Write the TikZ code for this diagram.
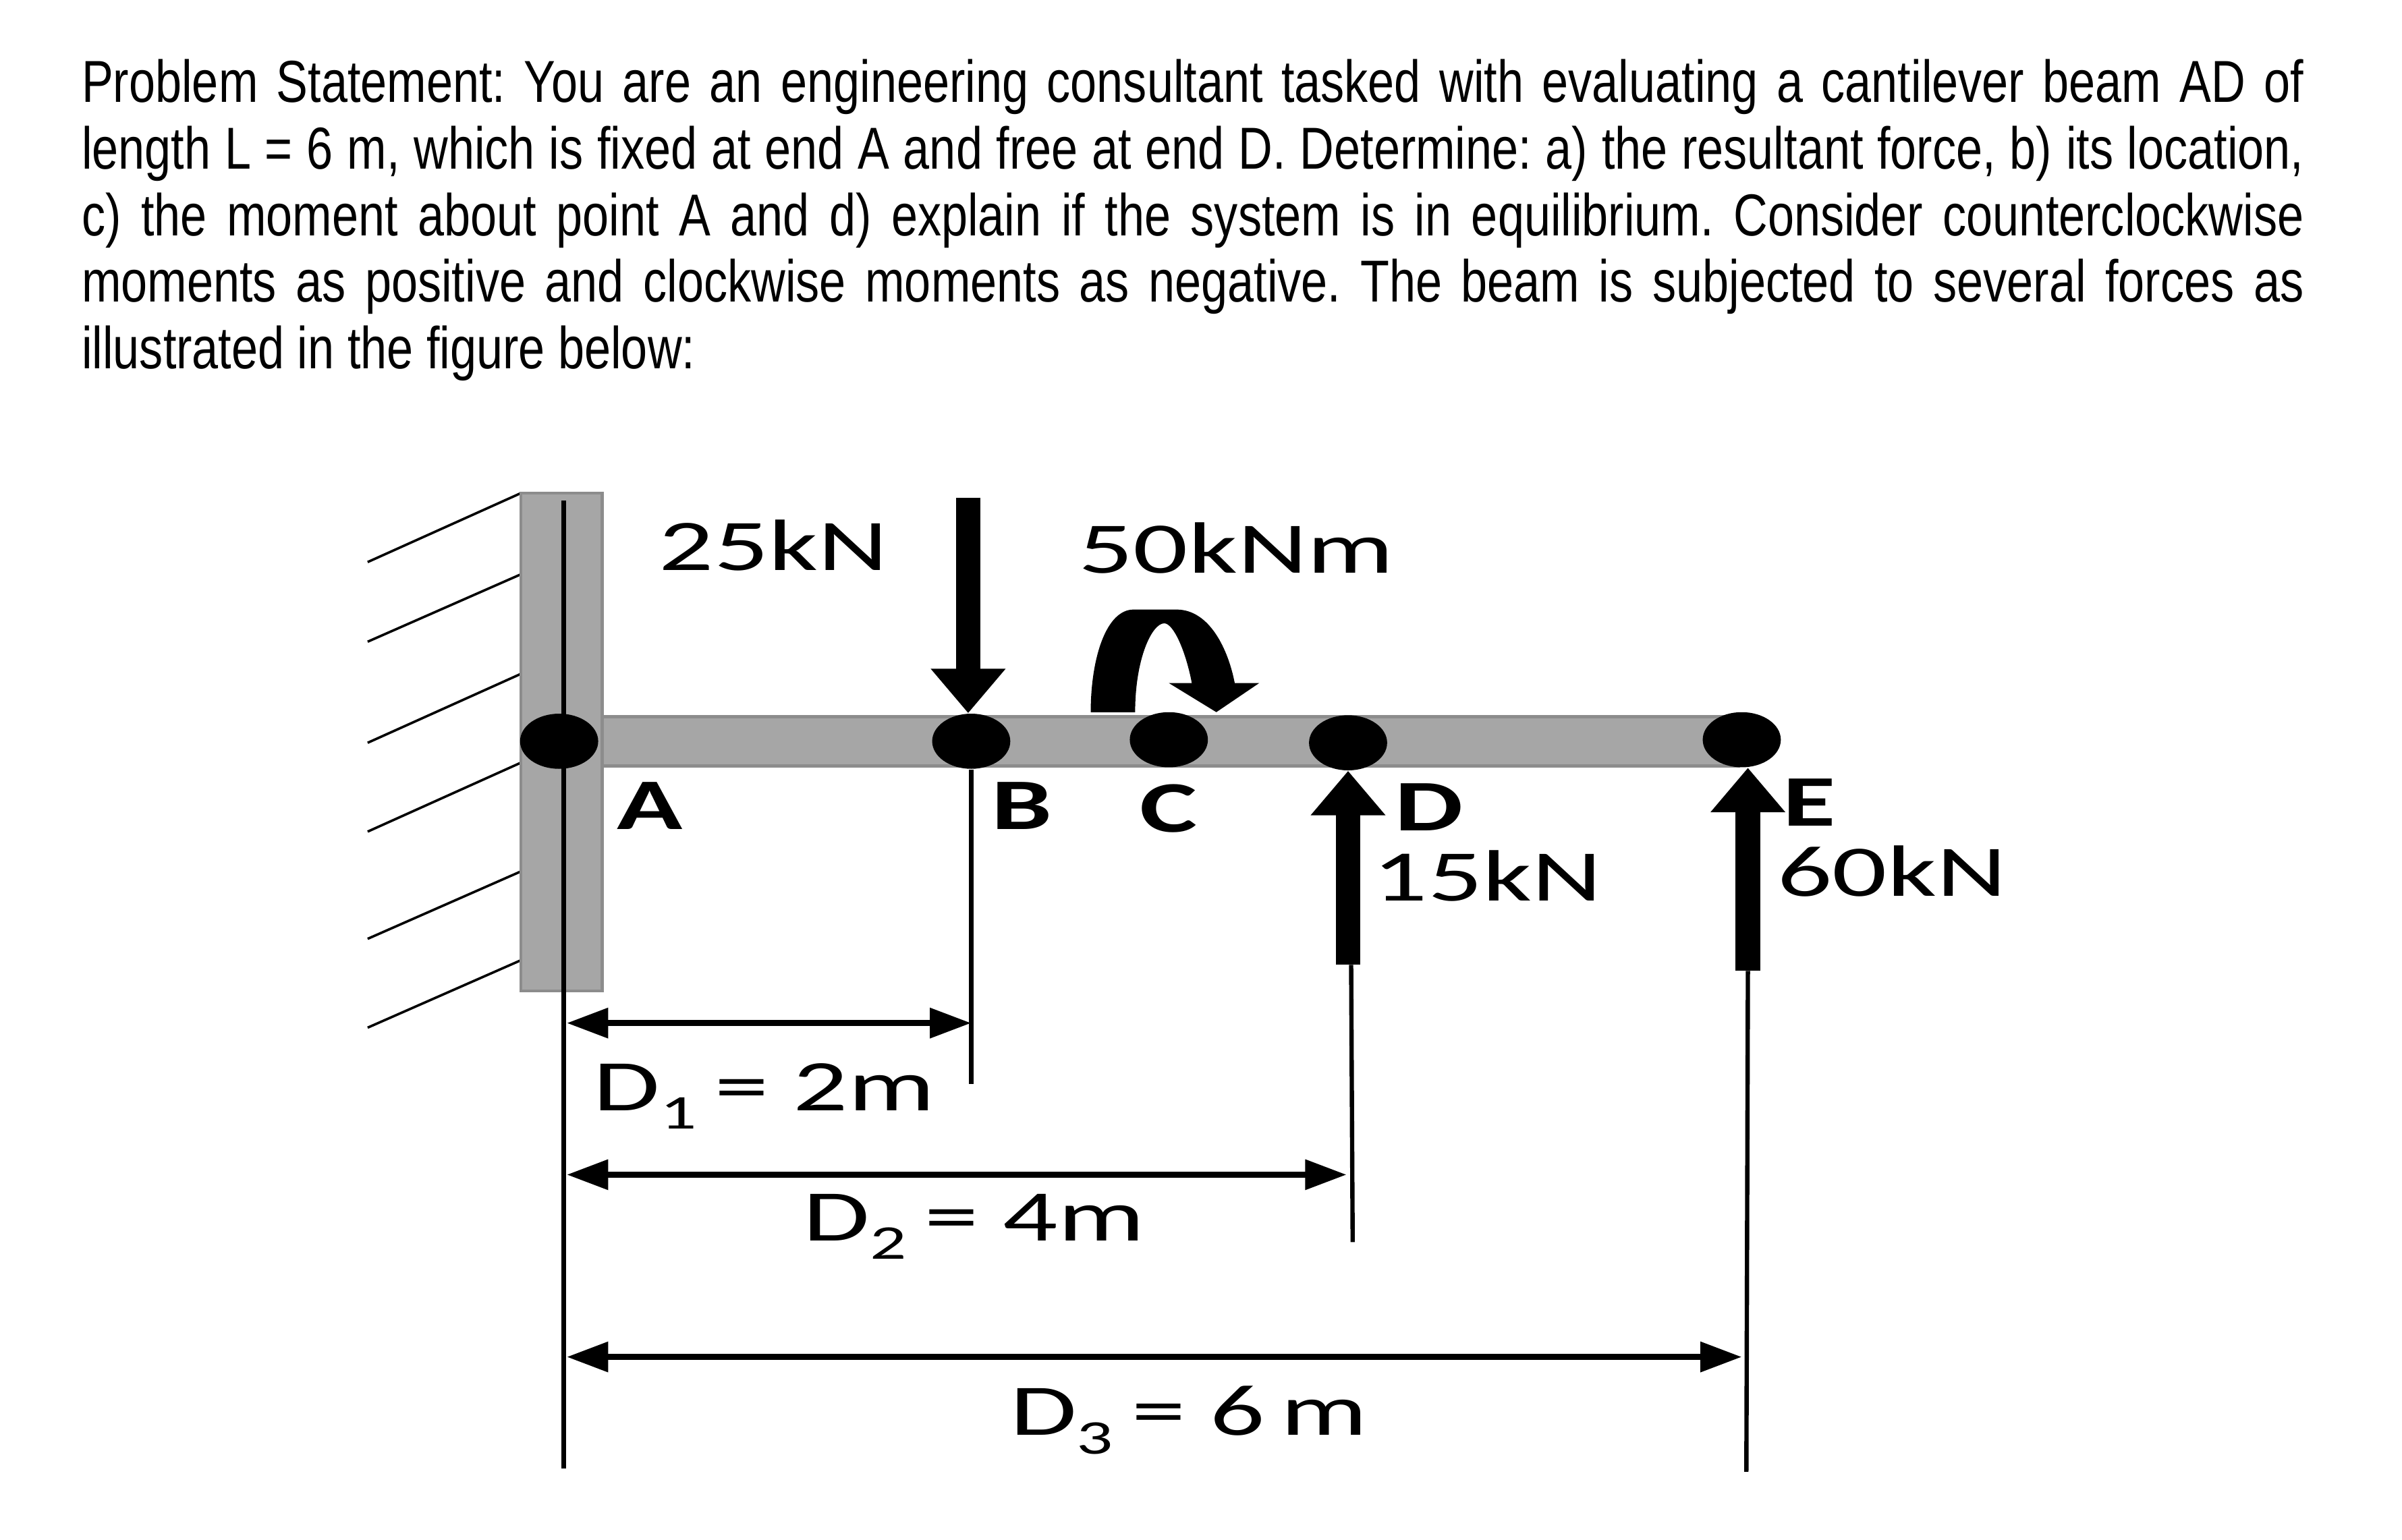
\documentclass[tikz,border=0pt]{standalone}
\usepackage{fontspec}
\usepackage{xcolor}
\usetikzlibrary{arrows.meta,shapes.geometric}
\setmainfont[FakeStretch=0.8]{Liberation Sans}
\newfontfamily\figfont[FakeStretch=1.49]{Carlito}
\definecolor{beamgray}{HTML}{A6A6A6}
\definecolor{edgegray}{HTML}{8C8C8C}
\newcommand{\dsub}[1]{\lower 7pt\hbox{\fontsize{18}{18}\selectfont #1}\kern-2.3pt\relax}
\tikzset{
  bar/.style={fill=beamgray,draw=edgegray,line width=1.2pt},
  pin/.style={ellipse,fill=black,inner sep=0pt,minimum width=1.02cm,minimum height=0.72cm},
  hatch/.style={draw=black,line width=0.9pt},
  guide/.style={draw=black,line width=1.6pt},
  force/.style={draw=black,line width=0.32cm,-{Triangle[width=0.94cm,length=0.58cm]}},
  dimen/.style={draw=black,line width=2.3pt,{Triangle[width=0.38cm,length=0.54cm]}-{Triangle[width=0.38cm,length=0.54cm]}},
  lab/.style={font=\figfont\fontsize{27}{27}\selectfont,inner sep=0pt},
  letter/.style={font=\figfont\bfseries\fontsize{27}{27}\selectfont,inner sep=0pt}
}
\begin{document}
\begin{tikzpicture}[x=0.02cm,y=-0.02cm]
\useasboundingbox (0, 0) rectangle (1568, 1005.5);
\node [anchor=north west,inner sep=0pt,text width=29.02cm,align=justify,font=\fontsize{22}{24.75}\selectfont] (statement) at (53, 38.5)
{\frenchspacing Problem Statement: You are an engineering consultant tasked with evaluating a cantilever beam AD of\linebreak
length L = 6 m, which is fixed at end A and free at end D. Determine: a) the resultant force, b) its location,\linebreak
c) the moment about point A and d) explain if the system is in equilibrium. Consider counterclockwise\linebreak
moments as positive and clockwise moments as negative. The beam is subjected to several forces as\linebreak
illustrated in the figure below:};

\draw [hatch] (340, 322) -- (240, 367);
\draw [hatch] (340, 375) -- (240, 419);
\draw [hatch] (340, 440) -- (240, 485);
\draw [hatch] (340, 498) -- (240, 543);
\draw [hatch] (340, 569) -- (240, 613);
\draw [hatch] (340, 627) -- (240, 671);

\draw [bar] (340, 322) rectangle (393, 647);
\draw [bar] (393, 468) rectangle (1135, 500);

\coordinate (wallTop) at (368, 327);
\coordinate (wallEnd) at (368, 959);
\coordinate (lineB) at (634, 708);
\coordinate (footD) at (880, 630);
\coordinate (stemD) at (882, 630);
\coordinate (lineD) at (883, 811);
\coordinate (footE) at (1141, 634);
\coordinate (lineE) at (1140, 961);
\coordinate (topB) at (632, 325);

\draw [guide] (wallTop) -- (wallEnd);
\node [pin] (pinA) at (365, 484) {};
\node [pin] (pinB) at (634, 484) {};
\node [pin] (pinC) at (763, 483) {};
\node [pin] (pinD) at (880, 485) {};
\node [pin] (pinE) at (1137, 483) {};

\draw [guide] (pinB.south) -- (lineB);
\draw [guide] (stemD) -- (lineD);
\draw [guide] (footE) -- (lineE);

\draw [force] (topB) -- (topB |- pinB.north);
\draw [force] (footD) -- (pinD.south);
\draw [force] (footE) -- (footE |- pinE.south);

\fill [black] (712, 465) .. controls (712, 430) and (722, 398) .. (740, 398) -- (768, 398)
  .. controls (790, 398) and (802, 425) .. (806, 446) -- (822, 446) -- (794, 465) -- (763, 446) -- (778, 446)
  .. controls (774, 425) and (766, 407) .. (760, 407) .. controls (752, 407) and (741, 430) .. (741, 465) -- cycle;

\coordinate (d1a) at (370, 668);
\coordinate (d1b) at (634, 668);
\coordinate (d2a) at (370, 767);
\coordinate (d2b) at (879, 767);
\coordinate (d3a) at (370, 886);
\coordinate (d3b) at (1137, 886);
\draw [dimen] (d1a) -- (d1b);
\draw [dimen] (d2a) -- (d2b);
\draw [dimen] (d3a) -- (d3b);

\node [lab] (load1) at (505, 356) {25kN};
\node [lab] (couple) at (807, 358) {50kNm};
\node [lab] (load2) at (971, 572) {15kN};
\node [lab] (load3) at (1235, 569) {60kN};
\node [letter] (labA) at (424, 526) {A};
\node [letter] (labB) at (667, 526) {B};
\node [letter] (labC) at (763, 528) {C};
\node [letter] (labD) at (933, 527) {D};
\node [letter] (labE) at (1181, 524) {E};
\node [lab,anchor=base west] (dist1) at (387, 725) {D\dsub{1} = 2m};
\node [lab,anchor=base west] (dist2) at (524, 810) {D\dsub{2} = 4m};
\node [lab,anchor=base west] (dist3) at (659, 937) {D\dsub{3} = 6\kern 6pt\relax m};
\end{tikzpicture}
\end{document}
